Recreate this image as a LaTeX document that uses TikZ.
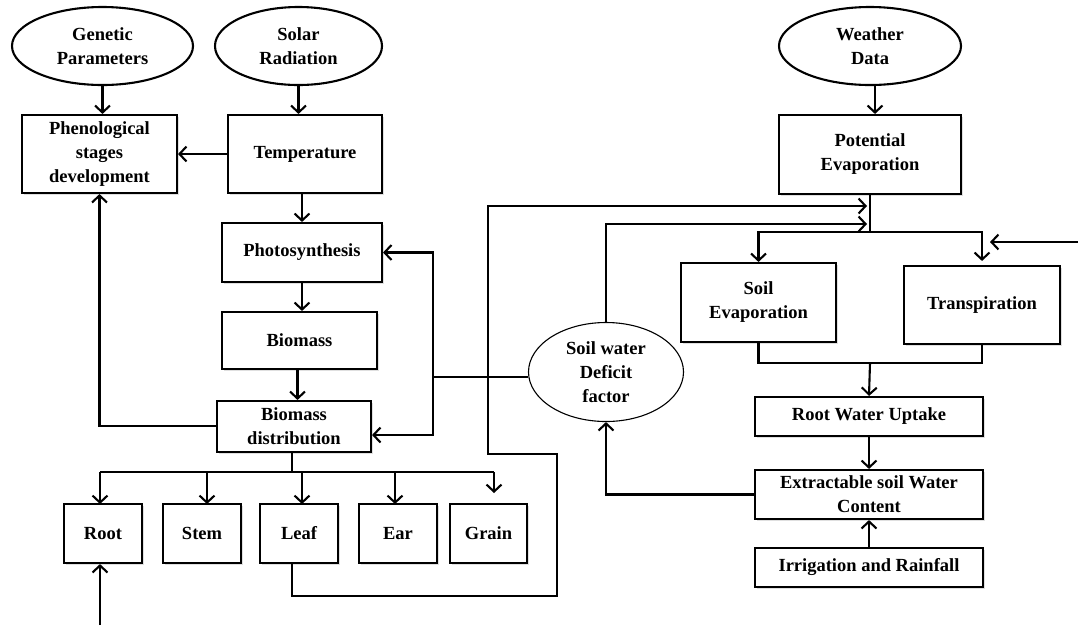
\documentclass[tikz,border=0pt]{standalone}
\usepackage{fontspec}
\setmainfont{Liberation Serif}
\usetikzlibrary{arrows.meta,shapes.geometric,shadows}
\begin{document}
\begin{tikzpicture}[x=1pt,y=-1pt,
  every node/.style={font=\bfseries\fontsize{18.5}{24}\selectfont, align=center, inner sep=0pt},
  box/.style={draw, line width=2.1pt, fill=white, rectangle,
    drop shadow={shadow xshift=1.5pt, shadow yshift=-2pt, opacity=0.25}},
  oval/.style={draw, line width=2.1pt, fill=white, ellipse},
  thinoval/.style={draw, line width=1.1pt, fill=white, ellipse},
  link/.style={line width=2.1pt},
  arr/.style={line width=2.1pt, -{Straight Barb[length=7pt,width=15pt,line width=2.1pt]}}
]
\useasboundingbox (0,0) rectangle (1078,625);

% ovals
\node[oval, minimum width=181pt, minimum height=78pt] (gen) at (102.5,46) {Genetic\\Parameters};
\node[oval, minimum width=167pt, minimum height=78pt] (sol) at (298.5,46) {Solar\\Radiation};
\node[oval, minimum width=182pt, minimum height=78pt] (wea) at (870,46) {Weather\\Data};
\node[thinoval, minimum width=155pt, minimum height=99pt] (swd) at (606,372) {Soil water\\Deficit\\factor};

% left column
\node[box, minimum width=155pt, minimum height=78pt] (phen) at (99.5,154) {Phenological\\stages\\development};
\node[box, minimum width=154pt, minimum height=78pt] (temp) at (305,154) {Temperature};
\node[box, minimum width=160pt, minimum height=59pt] (photo) at (302,252.5) {Photosynthesis};
\node[box, minimum width=155pt, minimum height=57pt] (bio) at (299.5,340.5) {Biomass};
\node[box, minimum width=154pt, minimum height=51pt] (dist) at (294,426.5) {Biomass\\distribution};

% organs
\node[box, minimum width=78pt, minimum height=59pt] (root) at (103,533.5) {Root};
\node[box, minimum width=78pt, minimum height=59pt] (stem) at (202,533.5) {Stem};
\node[box, minimum width=78pt, minimum height=59pt] (leaf) at (299,533.5) {Leaf};
\node[box, minimum width=78pt, minimum height=59pt] (ear) at (398,533.5) {Ear};
\node[box, minimum width=77pt, minimum height=59pt] (grain) at (488.5,533.5) {Grain};

% right column
\node[box, minimum width=182pt, minimum height=79pt] (pe) at (870,154.5) {Potential\\Evaporation};
\node[box, minimum width=155pt, minimum height=79pt] (se) at (758.5,302.5) {Soil\\Evaporation};
\node[box, minimum width=156pt, minimum height=78pt] (tr) at (982,305) {Transpiration};
\node[box, minimum width=228pt, minimum height=39pt] (rwu) at (869,416.5) {Root Water Uptake};
\node[box, minimum width=228pt, minimum height=49pt] (eswc) at (869,494.5) {Extractable soil Water\\Content};
\node[box, minimum width=228pt, minimum height=39pt] (ir) at (869,567.5) {Irrigation and Rainfall};

% helper coordinates
\coordinate (br) at (292,472);
\coordinate (j) at (433,377);
\coordinate (pj) at (870,232);
\coordinate (t1) at (867,206);
\coordinate (t2) at (867,224);
\coordinate (m) at (870,363);
\coordinate (rin) at (1078,242);
\coordinate (rtip) at (990,242);
\coordinate (rootin) at (100,625);
\coordinate (c1) at (557,596);
\coordinate (c2) at (488,454);

% left connectors
\draw[arr] (gen.south) -- (gen.south |- phen.north);
\draw[arr] (sol.south) -- (sol.south |- temp.north);
\draw[arr] (temp.west) -- (phen.east);
\draw[arr] (photo.north |- temp.south) -- (photo.north);
\draw[arr] (photo.south) -- (photo.south |- bio.north);
\draw[arr] ([xshift=-2pt]bio.south) -- ([xshift=-2pt]bio.south |- dist.north);
\draw[arr] (dist.west |- 0,426) -| (phen.south);

% distribution branches
\draw[link] (dist.south -| br) -- (br);
\draw[link] (100,472) -- (494,472);
\draw[arr] (100,472) -- (100,504);
\draw[arr] (207,472) -- (207,504);
\draw[arr] (302,472) -- (302,504);
\draw[arr] (395,472) -- (395,504);
\draw[arr] (494,472) -- (494,493);
\draw[arr] (rootin) -- (root.south -| rootin);

% leaf feedback loop
\draw[arr] ([xshift=-7pt]leaf.south) |- (c1) |- (c2) |- (t1);

% soil water deficit
\draw[link] (swd.west |- j) -- (j);
\draw[arr] (j) |- (photo.east);
\draw[arr] (j) |- ([yshift=-8.5pt]dist.east);
\draw[arr] (swd.north) |- (t2);
\draw[arr] (eswc.west) -| (swd.south);

% right connectors
\draw[arr] ([xshift=5pt]wea.south) -- ([xshift=5pt]wea.south |- pe.north);
\draw[link] (pe.south) -- (pj);
\draw[arr] (pj) -| (se.north);
\draw[arr] (pj) -| ([yshift=4pt]tr.north);
\draw[arr] (rin) -- (rtip);
\draw[link] (se.south) |- (m) -| (tr.south);
\draw[arr] (m) -- (rwu.north);
\draw[arr] (rwu.south) -- (eswc.north);
\draw[arr] (ir.north) -- (eswc.south);
\end{tikzpicture}
\end{document}
